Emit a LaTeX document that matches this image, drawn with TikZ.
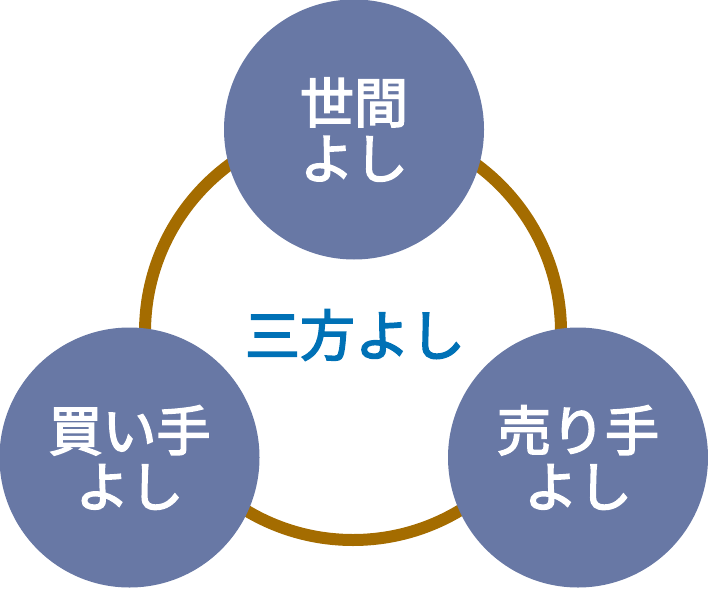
\documentclass[tikz,border=0pt]{standalone}
\usepackage{fontspec}
\newfontfamily\cjk[FakeBold=3]{Noto Sans CJK JP}
\definecolor{circfill}{HTML}{6878A5}
\definecolor{ringcol}{HTML}{A46C00}
\definecolor{midblue}{HTML}{0071B6}
\tikzset{
  party/.style={circle, fill=circfill, minimum size=260pt, inner sep=0pt, text=white,
    font=\cjk\fontsize{54pt}{56pt}\selectfont, align=center},
  ringline/.style={draw=ringcol, line width=12pt}
}
\begin{document}
\begin{tikzpicture}[x=1pt,y=-1pt]
\useasboundingbox (0,0) rectangle (708,588);
\coordinate (ctr) at (353,332);
\draw[ringline] (ctr) circle[radius=208pt];
\node[text=midblue, font=\cjk\fontsize{55pt}{57pt}\selectfont] (title) at (355,335) {三方よし};
\node[party] (top) at (354,129.5) {世間\\よし};
\node[party] (left) at (129.5,457.5) {買い手\\よし};
\node[party] (right) at (578,457.5) {売り手\\よし};
\end{tikzpicture}
\end{document}
